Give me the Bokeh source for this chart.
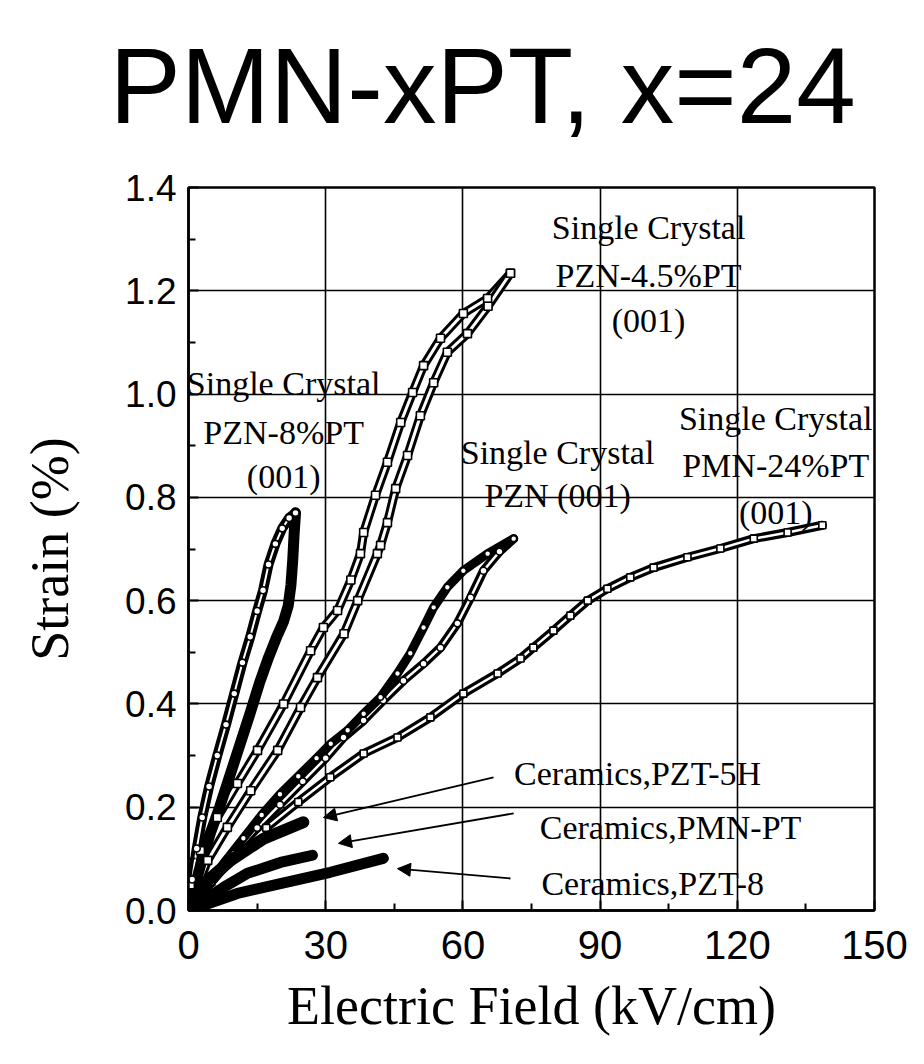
from bokeh.plotting import figure
from bokeh.models import Arrow, NormalHead, Label, FixedTicker, Title
from bokeh.embed import file_html
from bokeh.resources import INLINE

# ---------------- data ----------------
title_text = "PMN-xPT, x=24"
x_ticks = [0, 30, 60, 90, 120, 150]
x_tick_labels = ["0", "30", "60", "90", "120", "150"]
x_minor = [15, 45, 75, 105, 135]
y_ticks = [0.0, 0.2, 0.4, 0.6, 0.8, 1.0, 1.2, 1.4]
y_tick_labels = ["0.0", "0.2", "0.4", "0.6", "0.8", "1.0", "1.2", "1.4"]
y_minor = [0.1, 0.3, 0.5, 0.7, 0.9, 1.1, 1.3]

# PZN-8%PT (001) loop
pzn8_a_x = [0, 0.8, 1.8, 3.0, 4.5, 6.3, 8.2, 10.0, 11.8, 13.5, 15.0, 16.3, 17.5, 19.0, 20.5, 22.0, 23.4]
pzn8_a_y = [0, 0.06, 0.12, 0.18, 0.24, 0.30, 0.36, 0.42, 0.48, 0.53, 0.58, 0.62, 0.67, 0.71, 0.74, 0.76, 0.77]
pzn8_b_x = [0, 1.5, 3.0, 4.8, 6.8, 9.0, 11.2, 13.4, 15.5, 17.5, 19.3, 20.8, 21.8, 22.4, 22.8, 23.1, 23.4]
pzn8_b_y = [0, 0.05, 0.10, 0.15, 0.20, 0.26, 0.32, 0.38, 0.44, 0.49, 0.53, 0.56, 0.59, 0.63, 0.68, 0.73, 0.77]

# PZN-4.5%PT (001) loop
pzn45_a_x = [0, 0.4, 2.6, 6.3, 10.7, 15.1, 20.8, 26.7, 29.5, 32.6, 35.5, 37.6, 38.3, 40.9, 43.5, 46.4, 49.0, 51.4, 55.1, 60.1, 65.4, 70.4]
pzn45_a_y = [0, 0.05, 0.116, 0.18, 0.246, 0.31, 0.40, 0.503, 0.548, 0.581, 0.64, 0.691, 0.732, 0.804, 0.868, 0.945, 1.003, 1.055, 1.108, 1.156, 1.185, 1.234]
pzn45_b_x = [0, 4.2, 8.5, 13.6, 19.5, 24.5, 28.2, 34.0, 37.0, 41.3, 42.0, 43.5, 45.3, 47.9, 50.7, 53.6, 56.6, 61.0, 65.5, 70.4]
pzn45_b_y = [0, 0.097, 0.161, 0.232, 0.31, 0.393, 0.451, 0.536, 0.60, 0.691, 0.707, 0.751, 0.817, 0.881, 0.958, 1.022, 1.081, 1.117, 1.17, 1.234]

# PZN (001) loop
pzn_a_x = [0, 4, 8, 12, 16, 20, 24, 28, 31.1, 34.8, 38.3, 42.0, 45.7, 48.5, 51.4, 53.6, 56.6, 60.1, 65.4, 71.1]
pzn_a_y = [0, 0.045, 0.095, 0.14, 0.185, 0.225, 0.26, 0.295, 0.323, 0.349, 0.381, 0.413, 0.459, 0.498, 0.548, 0.587, 0.626, 0.658, 0.691, 0.720]
pzn_b_x = [0, 5, 10, 15, 20, 25, 30, 33.9, 38.3, 42.6, 47.0, 51.4, 55.1, 58.8, 61.7, 64.5, 68.0, 71.1]
pzn_b_y = [0, 0.055, 0.11, 0.16, 0.205, 0.25, 0.295, 0.335, 0.368, 0.407, 0.445, 0.478, 0.509, 0.556, 0.606, 0.658, 0.695, 0.720]

# PMN-24%PT (001)
pmn24_x = [0, 5, 10, 17, 24, 31, 38.3, 45.7, 52.9, 60.1, 67.6, 72.6, 75.4, 79.8, 83.5, 87.3, 91.6, 96.6, 101.7, 109.1, 116.3, 123.6, 131.0, 138.6]
pmn24_y = [0, 0.055, 0.105, 0.16, 0.21, 0.258, 0.304, 0.335, 0.374, 0.420, 0.459, 0.488, 0.509, 0.542, 0.571, 0.600, 0.623, 0.645, 0.664, 0.684, 0.701, 0.720, 0.732, 0.746]

# Ceramics
pzt5h_x = [0, 4.2, 9.2, 16.4, 25.1]
pzt5h_y = [0, 0.058, 0.097, 0.139, 0.171]
pmnpt_x = [0, 7.7, 12.9, 20.1, 27.1]
pmnpt_y = [0, 0.045, 0.072, 0.093, 0.107]
pzt8_x = [0, 10.7, 20.1, 31.0, 42.6]
pzt8_y = [0, 0.033, 0.052, 0.074, 0.101]

# annotation texts
ann_text = ["Single Crystal", "PZN-4.5%PT", "(001)",
            "Single Crystal", "PZN-8%PT", "(001)",
            "Single Crystal", "PZN (001)",
            "Single Crystal", "PMN-24%PT", "(001)",
            "Ceramics,PZT-5H", "Ceramics,PMN-PT", "Ceramics,PZT-8"]
ann_x = [100.6, 100.6, 100.6, 20.8, 20.8, 20.8, 80.7, 80.7, 128.4, 128.4, 128.4, 98.2, 105.4, 101.5]
ann_y = [1.323, 1.230, 1.143, 1.021, 0.926, 0.840, 0.887, 0.804, 0.953, 0.862, 0.771, 0.265, 0.161, 0.052]

# arrows (start -> end)
arr_x0 = [66.7, 71.1, 70.4]
arr_y0 = [0.258, 0.188, 0.062]
arr_x1 = [29.5, 32.8, 45.7]
arr_y1 = [0.180, 0.130, 0.081]

SERIF = "Liberation Serif"
SANS = "Liberation Sans"

p = figure(width=924, height=1064, x_range=(0, 150), y_range=(0, 1.4),
           output_backend="svg", toolbar_location=None,
           min_border_left=188, min_border_right=50, min_border_top=187, min_border_bottom=154)
p.background_fill_color = "white"
p.border_fill_color = "white"
p.outline_line_color = "black"
p.outline_line_width = 2.5

# spacer panel next to the frame, then the big title above it
p.add_layout(Title(text=" ", text_font_size="1px", standoff=18), "above")
p.add_layout(Title(text=title_text, text_font=SANS, text_font_size="107px",
                   text_font_style="normal", text_color="black", align="left",
                   offset=-79, standoff=41, vertical_align="bottom"), "above")

# axes
p.xaxis.ticker = FixedTicker(ticks=x_ticks, minor_ticks=x_minor)
p.xaxis.major_label_overrides = {t: l for t, l in zip(x_ticks, x_tick_labels)}
p.yaxis.ticker = FixedTicker(ticks=y_ticks, minor_ticks=y_minor)
p.yaxis.major_label_overrides = {t: l for t, l in zip(y_ticks, y_tick_labels)}
for ax in (p.xaxis, p.yaxis):
    ax.axis_line_color = "black"
    ax.axis_line_width = 2.5
    ax.major_tick_line_color = "black"
    ax.major_tick_line_width = 2
    ax.major_tick_in = 10
    ax.major_tick_out = 0
    ax.minor_tick_line_color = "black"
    ax.minor_tick_line_width = 2
    ax.minor_tick_in = 7
    ax.minor_tick_out = 0
    ax.major_label_text_font = SANS
    ax.major_label_text_color = "black"
    ax.axis_label_text_font = SERIF
    ax.axis_label_text_font_style = "normal"
    ax.axis_label_text_color = "black"
    ax.axis_label_text_font_size = "54px"

p.xaxis.major_label_text_font_size = "40px"
p.yaxis.major_label_text_font_size = "37px"
p.xaxis.major_label_standoff = 20
p.yaxis.major_label_standoff = 12
p.xaxis.axis_label = "Electric Field (kV/cm)"
p.yaxis.axis_label = "Strain (%)"
p.xaxis.axis_label_standoff = 14
p.yaxis.axis_label_standoff = 42

p.xgrid.ticker = FixedTicker(ticks=x_ticks[1:-1])
p.ygrid.ticker = FixedTicker(ticks=y_ticks[1:-1])
for g in (p.xgrid, p.ygrid):
    g.grid_line_color = "black"
    g.grid_line_width = 1.6
    g.grid_line_alpha = 1.0


def tube(xs, ys, outer=9, inner=2.5):
    p.line(xs, ys, line_color="black", line_width=outer, line_join="round", line_cap="round")
    p.line(xs, ys, line_color="white", line_width=inner, line_join="round", line_cap="round")


def markers(xs, ys, marker, size=7):
    p.scatter(xs, ys, marker=marker, size=size, fill_color="white",
              line_color="black", line_width=1.6)


def dense(xs, ys, width=7):
    p.line(xs, ys, line_color="black", line_width=width, line_join="round", line_cap="round")


# open-marker chains
tube(pmn24_x, pmn24_y, 9, 2.5)
tube(pzn45_a_x, pzn45_a_y, 9, 3)
tube(pzn45_b_x, pzn45_b_y, 9, 3)
tube(pzn_b_x, pzn_b_y, 9, 2.5)
tube(pzn8_a_x, pzn8_a_y, 10, 2)

# dense (filled-looking) chains
dense(pzn_a_x, pzn_a_y, 9)
dense(pzn8_b_x, pzn8_b_y, 11)

markers(pmn24_x, pmn24_y, "square", 7)
markers(pzn45_a_x, pzn45_a_y, "square", 8)
markers(pzn45_b_x, pzn45_b_y, "square", 8)
markers(pzn_b_x, pzn_b_y, "circle", 7)
markers(pzn_a_x, pzn_a_y, "circle", 6)
markers(pzn8_a_x, pzn8_a_y, "circle", 7)

# ceramics: thick filled bands
dense(pzt5h_x, pzt5h_y, 12)
dense(pmnpt_x, pmnpt_y, 11)
dense(pzt8_x, pzt8_y, 11)

for t, x, y in zip(ann_text, ann_x, ann_y):
    p.add_layout(Label(x=x, y=y, text=t, text_align="center", text_baseline="alphabetic",
                       text_font=SERIF, text_font_size="34px", text_color="black"))

for x0, y0, x1, y1 in zip(arr_x0, arr_y0, arr_x1, arr_y1):
    p.add_layout(Arrow(end=NormalHead(size=13, fill_color="black", line_color="black", line_width=1),
                       x_start=x0, y_start=y0, x_end=x1, y_end=y1,
                       line_color="black", line_width=1.8))

open("out.html", "w").write(file_html(p, INLINE))
